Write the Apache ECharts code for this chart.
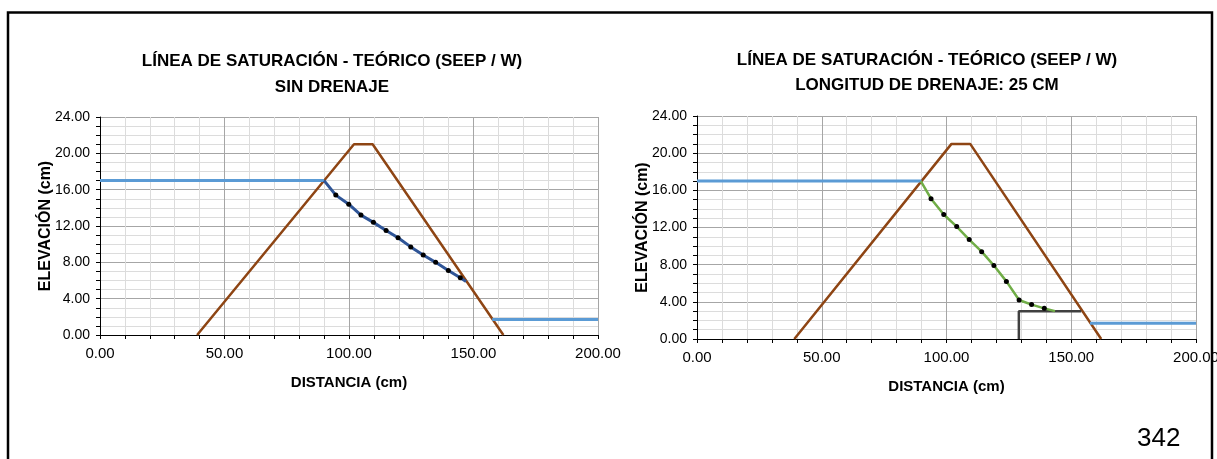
<!DOCTYPE html>
<html>
<head>
<meta charset="utf-8">
<script src="https://cdn.jsdelivr.net/npm/echarts@6/dist/echarts.min.js"></script>
<style>
html,body{margin:0;padding:0;background:#fff;}
#c{width:1217px;height:459px;}
</style>
</head>
<body>
<div id="c"></div>
<script>
// ---- data ----
const titleLeft = "LÍNEA DE SATURACIÓN - TEÓRICO (SEEP / W)\nSIN DRENAJE";
const titleRight = "LÍNEA DE SATURACIÓN - TEÓRICO (SEEP / W)\nLONGITUD DE DRENAJE: 25 CM";
const xName = "DISTANCIA (cm)";
const yName = "ELEVACIÓN (cm)";
const pageNumber = "342";

const damX = [39, 102, 109.5, 162];
const damY = [0, 21, 21, 0];
const upWaterX = [0, 90];
const upWaterY = [17, 17];
const downWaterX = [157.5, 200];
const downWaterY = [1.7, 1.7];

const seepLeftX = [90, 94.7, 99.9, 104.8, 109.8, 114.9, 119.7, 124.8, 129.8, 134.8, 139.9, 144.7, 147.0];
const seepLeftY = [17, 15.4, 14.4, 13.2, 12.4, 11.5, 10.7, 9.7, 8.8, 8.0, 7.1, 6.3, 5.9];

const seepRightX = [89.7, 93.8, 98.9, 104.1, 109.1, 114.1, 119.0, 124.0, 129.1, 134.1, 139.2, 143.5];
const seepRightY = [17.0, 15.1, 13.4, 12.1, 10.7, 9.4, 7.9, 6.2, 4.2, 3.7, 3.3, 3.0];

const drainX = [129, 129, 154];
const drainY = [0, 3, 3];

// ---- helpers ----
const pairs = (xs, ys) => xs.map((x, i) => [x, ys[i]]);
const dotted = (xs, ys) => xs.map((x, i) => ({
  value: [x, ys[i]],
  symbolSize: (i === 0 || i === xs.length - 1) ? 0 : 5
}));

const SANS = "'Liberation Sans',Arial,sans-serif";
const fmt = v => v.toFixed(2);

function xAxes(gi) {
  return [{
    type: 'value', gridIndex: gi, min: 0, max: 200, interval: 50,
    name: xName, nameLocation: 'middle', nameGap: 40, nameMoveOverlap: false,
    nameTextStyle: {fontFamily: SANS, fontWeight: 'bold', fontSize: 15, color: '#000'},
    axisLine: {show: true, onZero: false, lineStyle: {color: '#000', width: 1}},
    axisTick: {show: true, length: 4, lineStyle: {color: '#000'}},
    minorTick: {show: true, splitNumber: 5, length: 4, lineStyle: {color: '#000'}},
    axisLabel: {formatter: fmt, fontFamily: SANS, fontSize: 15, color: '#000', margin: 11},
    splitLine: {show: true, lineStyle: {color: '#a6a6a6', width: 1}},
    minorSplitLine: {show: true, lineStyle: {color: '#dcdcdc', width: 1}}
  }, {
    type: 'value', gridIndex: gi, min: 0, max: 200, interval: 50,
    axisLine: {show: false},
    axisTick: {show: true, inside: true, length: 4, lineStyle: {color: '#000'}},
    minorTick: {show: true, splitNumber: 5, length: 4, lineStyle: {color: '#000'}},
    axisLabel: {show: false}, splitLine: {show: false}
  }];
}
function yAxes(gi) {
  return [{
    type: 'value', gridIndex: gi, min: 0, max: 24, interval: 4,
    name: yName, nameLocation: 'middle', nameGap: 46, nameRotate: 90, nameMoveOverlap: false,
    nameTextStyle: {fontFamily: SANS, fontWeight: 'bold', fontSize: 16, color: '#000'},
    axisLine: {show: true, lineStyle: {color: '#000', width: 1}},
    axisTick: {show: true, length: 4, lineStyle: {color: '#000'}},
    minorTick: {show: true, splitNumber: 4, length: 4, lineStyle: {color: '#000'}},
    axisLabel: {formatter: fmt, fontFamily: SANS, fontSize: 14, color: '#000', margin: 10},
    splitLine: {show: true, lineStyle: {color: '#a6a6a6', width: 1}},
    minorSplitLine: {show: true, lineStyle: {color: '#dcdcdc', width: 1}}
  }, {
    type: 'value', gridIndex: gi, min: 0, max: 24, interval: 4,
    axisLine: {show: false},
    axisTick: {show: true, inside: true, length: 4, lineStyle: {color: '#000'}},
    minorTick: {show: true, splitNumber: 4, length: 4, lineStyle: {color: '#000'}},
    axisLabel: {show: false}, splitLine: {show: false}
  }];
}

const chart = echarts.init(document.getElementById('c'), null, {renderer: 'canvas'});
const DAM = '#8e4514', WATER = '#5b9bd5', SEEP_L = '#2f5597', SEEP_R = '#70ad47', DRAIN = '#404040';

function lineS(xi, yi, data, color, width, z) {
  return {type: 'line', xAxisIndex: xi, yAxisIndex: yi, data: data, symbol: 'none',
    lineStyle: {color: color, width: width}, itemStyle: {color: color}, z: z || 3, animation: false, silent: true};
}

const option = {
  animation: false,
  title: [
    {text: titleLeft, left: 327, top: 43, textAlign: 'center',
     textStyle: {fontFamily: SANS, fontWeight: 'bold', fontSize: 17, lineHeight: 26, color: '#000'}},
    {text: titleRight, left: 922, top: 43, textAlign: 'center',
     textStyle: {fontFamily: SANS, fontWeight: 'bold', fontSize: 17, lineHeight: 25, color: '#000'}}
  ],
  grid: [
    {left: 100, top: 117, width: 498, height: 218, outerBoundsMode: 'none', containLabel: false},
    {left: 697, top: 116, width: 499, height: 223, outerBoundsMode: 'none', containLabel: false}
  ],
  xAxis: [...xAxes(0), ...xAxes(1)],
  yAxis: [...yAxes(0), ...yAxes(1)],
  series: [
    lineS(0, 0, pairs(damX, damY), DAM, 2.5),
    lineS(0, 0, pairs(upWaterX, upWaterY), WATER, 3),
    lineS(0, 0, pairs(downWaterX, downWaterY), WATER, 3),
    Object.assign(lineS(0, 0, dotted(seepLeftX, seepLeftY), SEEP_L, 3, 4),
      {symbol: 'circle', itemStyle: {color: '#000', borderWidth: 0}}),
    lineS(2, 2, pairs(damX, damY), DAM, 2.5),
    lineS(2, 2, pairs(upWaterX, upWaterY), WATER, 3),
    lineS(2, 2, pairs(downWaterX, downWaterY), WATER, 3),
    lineS(2, 2, pairs(drainX, drainY), DRAIN, 2.5),
    Object.assign(lineS(2, 2, dotted(seepRightX, seepRightY), SEEP_R, 2.5, 4),
      {symbol: 'circle', itemStyle: {color: '#000', borderWidth: 0}})
  ],
  graphic: [
    {type: 'polyline', z: 100, shape: {points: [[8, 470], [8, 12.5], [1212, 12.5], [1212, 470]]},
     style: {stroke: '#000', lineWidth: 2.5, fill: null}},
    {type: 'text', left: 1137, top: 426, z: 100,
     style: {text: pageNumber, font: "26px 'Liberation Sans',Arial,sans-serif", fill: '#000'}}
  ]
};
chart.setOption(option);
</script>
</body>
</html>
